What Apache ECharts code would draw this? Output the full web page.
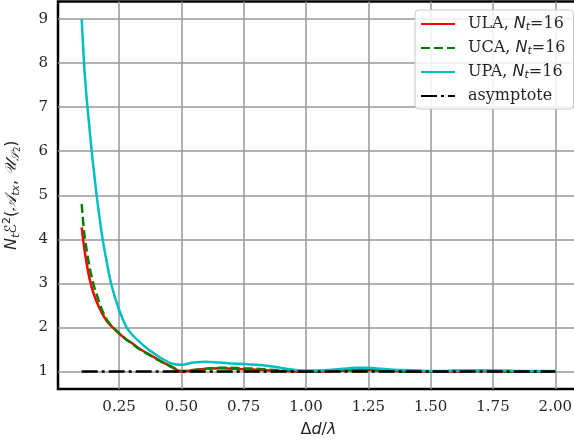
<!DOCTYPE html>
<html>
<head>
<meta charset="utf-8">
<script src="https://cdn.jsdelivr.net/npm/echarts@6/dist/echarts.min.js"></script>
<style>html,body{margin:0;padding:0;background:#fff}#c{width:574px;height:442px}</style>
</head>
<body>
<div id="c"></div>
<script>
const xs = [0.1,0.11,0.12,0.13,0.14,0.15,0.16,0.18,0.2,0.22,0.25,0.28,0.3,0.33,0.36,0.4,0.43,0.46,0.5,
  0.55,0.6,0.65,0.7,0.75,0.8,0.85,0.9,0.95,1.0,1.05,1.1,1.15,1.2,1.25,1.3,1.35,1.4,1.45,1.5,1.55,1.6,1.65,1.7,1.75,1.8,1.85,1.9,1.95,2.0];
const ula = [4.27,3.81,3.45,3.15,2.92,2.73,2.58,2.34,2.15,2.02,1.86,1.72,1.65,1.52,1.42,1.29,1.19,1.11,0.99,
  1.03,1.06,1.07,1.06,1.05,1.04,1.02,1.01,1.0,1.0,1.0,1.01,1.02,1.03,1.03,1.02,1.01,1.0,1.0,0.99,1.0,1.0,1.01,1.01,1.01,1.0,1.0,1.0,1.0,1.0];
const uca = [4.8,4.15,3.75,3.42,3.15,2.92,2.75,2.42,2.18,2.03,1.87,1.72,1.64,1.51,1.41,1.28,1.19,1.1,1.01,
  1.03,1.06,1.08,1.08,1.07,1.06,1.04,1.02,1.01,1.0,1.0,1.01,1.02,1.03,1.03,1.02,1.01,1.0,1.0,1.0,1.0,1.01,1.01,1.01,1.01,1.0,1.0,1.0,1.0,1.0];
const upa = [9.0,7.95,7.2,6.6,6.0,5.5,5.0,4.15,3.5,2.95,2.4,2.0,1.85,1.68,1.53,1.37,1.26,1.18,1.15,
  1.2,1.22,1.2,1.18,1.17,1.15,1.12,1.08,1.04,1.02,1.02,1.04,1.06,1.08,1.08,1.06,1.04,1.03,1.02,1.01,1.01,1.02,1.02,1.02,1.02,1.02,1.01,1.01,1.01,1.01];
const asymX = [0.1, 2.0];
const asymY = [1, 1];
const xTicks = [0.25,0.5,0.75,1.0,1.25,1.5,1.75,2.0];
const yTicks = [1,2,3,4,5,6,7,8,9];
const names = ['ULA, N_t=16','UCA, N_t=16','UPA, N_t=16','asymptote'];

const pair = (a,b)=>a.map((v,i)=>[v,b[i]]);
const serif = '"DejaVu Serif", serif';
const sans = '"DejaVu Sans", sans-serif';
const tc = '#262626';

const chart = echarts.init(document.getElementById('c'), null, {renderer:'canvas'});
function legendFmt(n){
  if(n.indexOf('N_t')<0) return '{a|'+n+'}';
  const parts = n.split('N_t');
  return '{a|'+parts[0]+'}{i|N}{s|t}{a|'+parts[1]+'}';
}
chart.setOption({
  animation:false,
  backgroundColor:'#fff',
  grid:{left:58,right:-5,top:1.5,bottom:53,outerBoundsMode:'none',containLabel:false,show:true,borderColor:'#000',borderWidth:2.5,backgroundColor:'transparent'},
  xAxis:{type:'value',min:0.005,max:2.095,
    name:'{d|Δ}{i|d}{d|/}{i|λ}',nameLocation:'middle',nameGap:33,
    nameTextStyle:{rich:{d:{fontFamily:sans,fontSize:16,color:tc},i:{fontFamily:sans,fontStyle:'italic',fontSize:16,color:tc}}},
    axisLine:{show:false},
    axisTick:{show:false,customValues:xTicks},
    axisLabel:{customValues:xTicks,formatter:v=>v.toFixed(2),fontFamily:serif,fontSize:15,color:tc,margin:11},
    splitLine:{show:true,lineStyle:{color:'#999',width:1.5}}
  },
  yAxis:{type:'value',min:0.6,max:9.4,
    name:'{i|N}{s|t}{m|ℰ}{p|2}{a|(}{m|𝒜}{s|tx}{a|, }{m|𝒰}{s|𝒮}{ss|2}{a|)}',
    nameLocation:'middle',nameGap:36,nameRotate:90,
    nameTextStyle:{rich:{
      i:{fontFamily:sans,fontStyle:'italic',fontSize:16,color:tc},
      a:{fontFamily:sans,fontSize:16,color:tc},
      m:{fontFamily:sans,fontStyle:'italic',fontSize:16,color:tc},
      s:{fontFamily:sans,fontStyle:'italic',fontSize:11,color:tc,verticalAlign:'bottom',padding:[8,0,0,0]},
      ss:{fontFamily:sans,fontSize:8,color:tc,verticalAlign:'bottom',padding:[12,0,0,0]},
      p:{fontFamily:sans,fontSize:11,color:tc,verticalAlign:'top',padding:[0,0,8,0]}
    }},
    axisLine:{show:false},
    axisTick:{show:false,customValues:yTicks},
    axisLabel:{customValues:yTicks,fontFamily:serif,fontSize:15,color:tc,margin:10},
    splitLine:{show:true,lineStyle:{color:'#999',width:1.5}}
  },
  legend:{orient:'vertical',left:415,top:10,itemWidth:34,itemHeight:14,itemGap:6,
    backgroundColor:'rgba(255,255,255,0.85)',borderColor:'#ccc',borderWidth:1,borderRadius:4,padding:[5,8,4,5],
    itemStyle:{opacity:0},
    data:names,
    formatter:legendFmt,
    textStyle:{padding:[0,0,0,8],lineHeight:18,rich:{
      a:{fontFamily:serif,fontSize:16,color:tc,lineHeight:18},
      i:{fontFamily:sans,fontStyle:'italic',fontSize:16,color:tc,lineHeight:18},
      s:{fontFamily:sans,fontStyle:'italic',fontSize:11,color:tc,verticalAlign:'bottom',lineHeight:12,padding:[4,0,0,0]}
    }}
  },
  series:[
    {name:names[0],type:'line',data:pair(xs,ula),symbol:'none',smooth:0.3,lineStyle:{color:'#ff0000',width:2.5},itemStyle:{color:'#ff0000'}},
    {name:names[1],type:'line',data:pair(xs,uca),symbol:'none',smooth:0.3,lineStyle:{color:'#008000',width:2.5,type:[9,4]},itemStyle:{color:'#008000'}},
    {name:names[2],type:'line',data:pair(xs,upa),symbol:'none',smooth:0.3,lineStyle:{color:'#00bfbf',width:2.5},itemStyle:{color:'#00bfbf'}},
    {name:names[3],type:'line',data:pair(asymX,asymY),symbol:'none',lineStyle:{color:'#000',width:2.5,type:[16,4,3,4]},itemStyle:{color:'#000'}}
  ]
});
</script>
</body>
</html>
